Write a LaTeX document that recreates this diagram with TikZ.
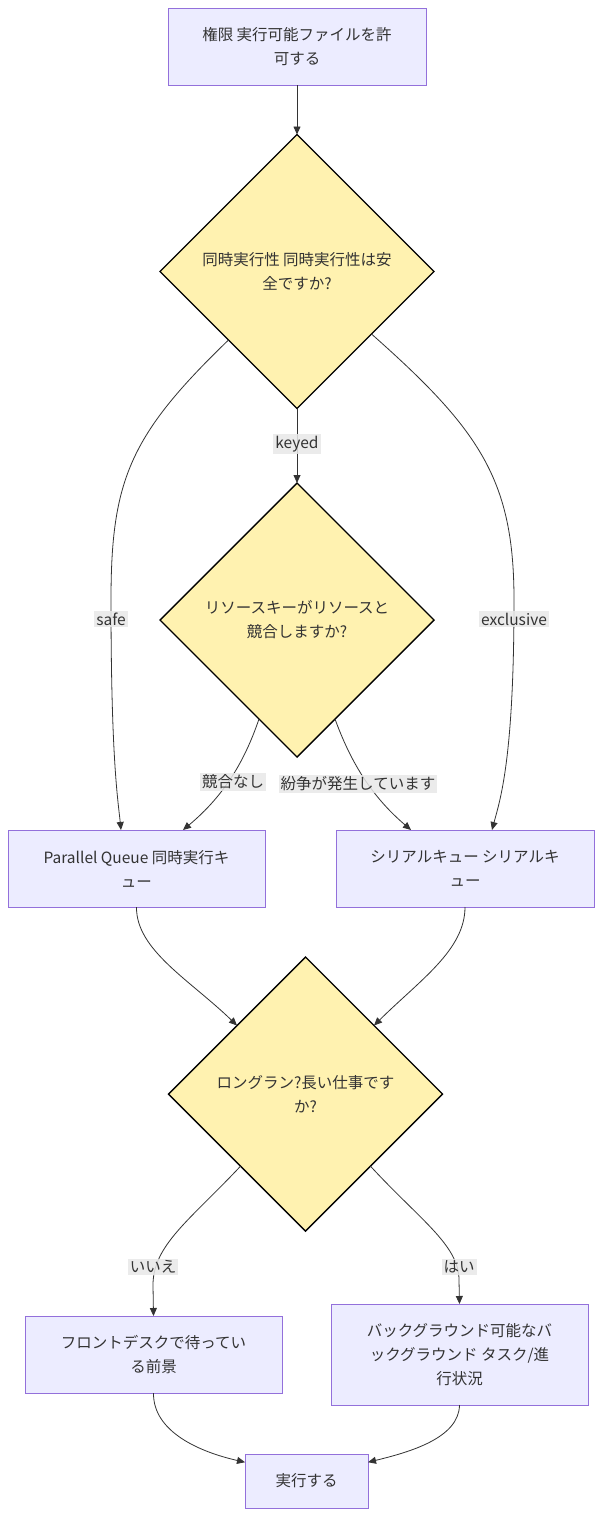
\documentclass[tikz,border=0pt]{standalone}
\usepackage{fontspec}
\setmainfont{Noto Sans CJK JP}
\usetikzlibrary{shapes.geometric,arrows.meta}
\definecolor{boxfill}{HTML}{ECECFF}
\definecolor{boxline}{HTML}{9370DB}
\definecolor{decfill}{HTML}{FFF2B0}
\definecolor{txt}{HTML}{333333}
\definecolor{lblbg}{HTML}{E8E8E8}
\begin{document}
\begin{tikzpicture}[x=1pt,y=-1pt, font=\fontsize{15.5}{24}\selectfont, text=txt,
 proc/.style={draw=boxline, fill=boxfill, line width=1pt, rectangle, inner sep=0pt, outer sep=0pt, align=center},
 dec/.style={diamond, aspect=1, draw=black, fill=decfill, line width=1.4pt, minimum width=274pt, minimum height=274pt, inner sep=0pt, outer sep=0pt, align=center},
 conn/.style={draw=txt, line width=0.8pt, -{Triangle[length=8pt,width=7pt]}},
 lbl/.style={fill=lblbg, fill opacity=0.85, text opacity=1, inner sep=2pt}]
\fill[white] (0,0) rectangle (609,1534);
\useasboundingbox (0,0) rectangle (609,1534);

\node[proc, minimum width=258pt, minimum height=77pt] (T) at (297,46.5) {権限 実行可能ファイルを許\\可する};
\node[dec] (D1) at (297,271.5) {同時実行性 同時実行性は安\\全ですか?};
\node[dec] (D2) at (297,620) {リソースキーがリソースと\\競合しますか?};
\node[proc, minimum width=257pt, minimum height=77pt] (PQ) at (136.5,868.5) {Parallel Queue 同時実行キ\\ュー};
\node[proc, minimum width=258pt, minimum height=77pt] (SQ) at (465,868.5) {シリアルキュー シリアルキ\\ュー};
\node[dec] (D3) at (305.5,1094) {ロングラン?長い仕事です\\か?};
\node[proc, minimum width=257pt, minimum height=77pt] (FD) at (153.5,1354.5) {フロントデスクで待ってい\\る前景};
\node[proc, minimum width=257pt, minimum height=101pt] (BG) at (459.5,1354.5) {バックグラウンド可能なバ\\ックグラウンド タスク/進\\行状況};
\node[proc, minimum width=123pt, minimum height=54pt] (EX) at (306.5,1481) {実行する};

\draw[conn] (T.south) -- (D1.north);
\draw[conn] (D1.south) -- (D2.north);
\draw[conn] (D1.225) .. controls (130,435) and (111,480) .. (111,600) .. controls (111,760) and (118,800) .. ([xshift=-15.5pt]PQ.north);
\draw[conn] (D1.-40) .. controls (480,430) and (514,480) .. (514,600) .. controls (514,760) and (500,800) .. ([xshift=27pt]SQ.north);
\draw[conn] (D2.249) .. controls (245,760) and (225,795) .. ([xshift=46.5pt]PQ.north);
\draw[conn] (D2.291) .. controls (350,760) and (370,795) .. ([xshift=-54pt]SQ.north);
\draw[conn] (PQ.south) .. controls (136,950) and (190,980) .. (D3.135);
\draw[conn] (SQ.south) .. controls (465,950) and (420,980) .. (D3.45);
\draw[conn] (D3.228) .. controls (190,1220) and (153,1245) .. (153,1285) -- (FD.north);
\draw[conn] (D3.312) .. controls (420,1220) and (459,1245) .. (459,1280) -- (BG.north);
\draw[conn] (FD.south) .. controls (153,1432) and (200,1452) .. (EX.163);
\draw[conn] (BG.south) .. controls (459,1438) and (410,1452) .. (EX.17);

\node[lbl] (Lkeyed) at (297,444) {keyed};
\node[lbl] (Lsafe) at (111,619) {safe};
\node[lbl] (Lexcl) at (514,619) {exclusive};
\node[lbl] (Lno1) at (233,782) {競合なし};
\node[lbl] (Lconf) at (358,784) {紛争が発生しています};
\node[lbl] (Lno2) at (153,1267) {いいえ};
\node[lbl] (Lyes) at (459,1267) {はい};
\end{tikzpicture}
\end{document}
